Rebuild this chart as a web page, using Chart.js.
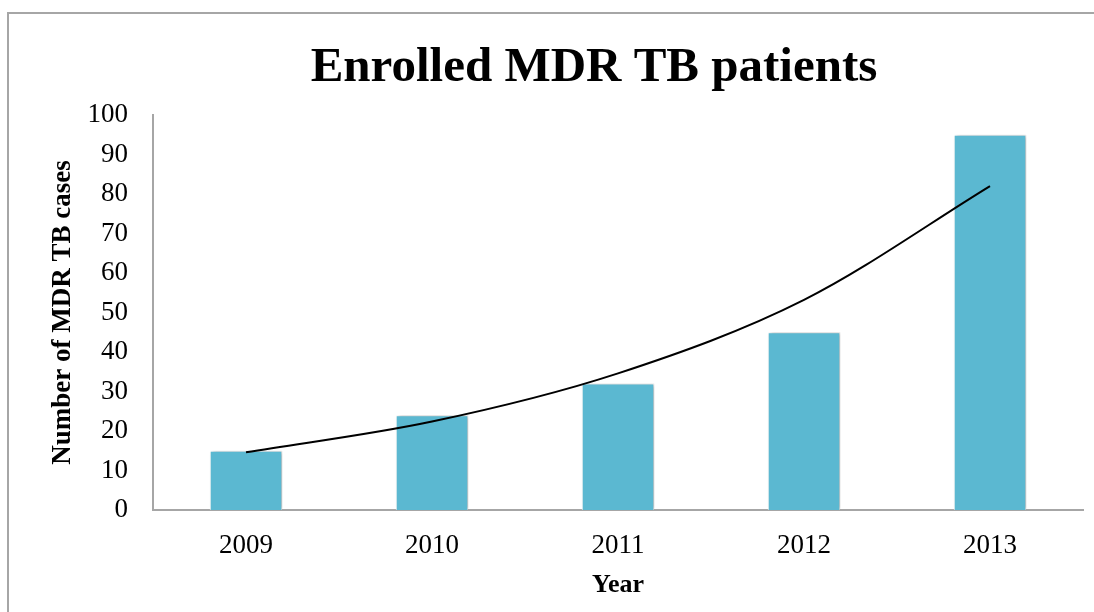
<!DOCTYPE html>
<html>
<head>
<meta charset="utf-8">
<script src="https://cdn.jsdelivr.net/npm/chart.js@4/dist/chart.umd.min.js"></script>
<style>
  html, body { margin: 0; padding: 0; background: #fff; }
  #frame {
    position: absolute; left: 7px; top: 12px; width: 1200px; height: 700px;
    border: 2px solid #a6a6a6; box-sizing: border-box;
  }
  #chart { position: absolute; left: 0; top: 0; }
</style>
</head>
<body>
<div id="frame"></div>
<canvas id="chart" width="1094" height="612"></canvas>
<script>
// data
const years = ['2009', '2010', '2011', '2012', '2013'];
const enrolled = [15, 24, 32, 45, 95];
// exponential trend line, value at each year
const trend = [14.6, 22.4, 34.6, 53.2, 82.0];
const yTicks = [0, 10, 20, 30, 40, 50, 60, 70, 80, 90, 100];
const chartTitle = 'Enrolled MDR TB patients';

const serif = '"Liberation Serif", "Times New Roman", serif';

// title sits centred on the whole framed chart, not the canvas
const titleText = {
  id: 'titleText',
  afterDraw(chart) {
    const ctx = chart.ctx;
    ctx.save();
    ctx.font = 'bold 49px ' + serif;
    ctx.fillStyle = '#000';
    ctx.textAlign = 'center';
    ctx.textBaseline = 'middle';
    ctx.fillText(chartTitle, 594, 68);
    ctx.restore();
  }
};

// soft shadow behind the bars, like the office chart
const barShadow = {
  id: 'barShadow',
  beforeDatasetDraw(chart, args) {
    if (args.index !== 1) return;
    const ctx = chart.ctx;
    ctx.save();
    ctx.shadowColor = 'rgba(0,0,0,0.3)';
    ctx.shadowBlur = 4;
    ctx.shadowOffsetX = 2;
    ctx.shadowOffsetY = 0;
  },
  afterDatasetDraw(chart, args) {
    if (args.index !== 1) return;
    chart.ctx.restore();
  }
};

new Chart(document.getElementById('chart'), {
  type: 'bar',
  data: {
    labels: years,
    datasets: [
      {
        type: 'line',
        label: 'Trend',
        data: trend,
        borderColor: '#000',
        borderWidth: 2,
        pointRadius: 0,
        cubicInterpolationMode: 'monotone',
        order: 0
      },
      {
        label: chartTitle,
        data: enrolled,
        backgroundColor: '#5bb8d1',
        borderColor: '#ffffff',
        borderWidth: 1,
        categoryPercentage: 1,
        barPercentage: 0.39,
        order: 1
      }
    ]
  },
  plugins: [barShadow, titleText],
  options: {
    responsive: false,
    animation: false,
    layout: { padding: { left: 0, right: 11, top: 115, bottom: 0 } },
    plugins: {
      legend: { display: false },
      tooltip: { enabled: false },
      title: { display: false }
    },
    scales: {
      x: {
        grid: { display: false, drawTicks: false },
        border: { color: '#a6a6a6', width: 2 },
        ticks: { color: '#000', padding: 20, font: { family: serif, size: 27 } },
        title: {
          display: true, text: 'Year', color: '#000',
          font: { family: serif, size: 26, weight: 'bold', lineHeight: 1.2 },
          padding: { top: 0, bottom: 11 }
        },
        afterFit(scale) { scale.height = 102; }
      },
      y: {
        min: 0,
        max: 100,
        afterBuildTicks(scale) { scale.ticks = yTicks.map(v => ({ value: v })); },
        grid: { display: false, drawTicks: false },
        border: { color: '#a6a6a6', width: 2 },
        ticks: { color: '#000', padding: 25, font: { family: serif, size: 27 } },
        title: {
          display: true, text: 'Number of MDR TB cases', color: '#000',
          font: { family: serif, size: 27, weight: 'bold', lineHeight: 1.2 },
          padding: { top: 47, bottom: 0 }
        },
        afterFit(scale) { scale.width = 153; }
      }
    }
  }
});
</script>
</body>
</html>
